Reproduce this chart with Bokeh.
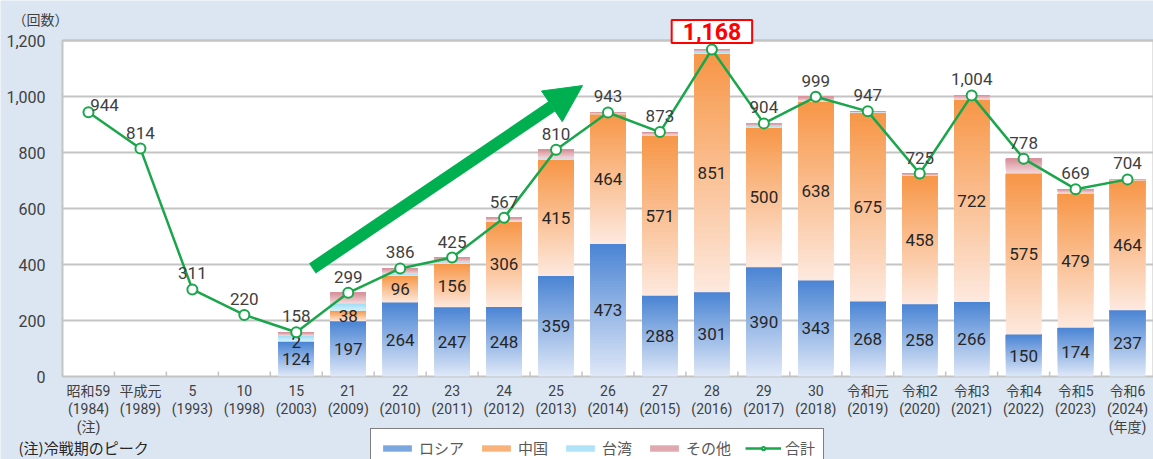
from bokeh.plotting import figure
from bokeh.models import (Range1d, ColumnDataSource, Label, Legend, LegendItem,
                          Arrow, NormalHead)
from bokeh.core.properties import value
from bokeh.embed import file_html
from bokeh.resources import INLINE

# ---------------- data ----------------
categories = ["昭和59\n(1984)\n(注)", "平成元\n(1989)", "5\n(1993)", "10\n(1998)",
              "15\n(2003)", "21\n(2009)", "22\n(2010)", "23\n(2011)", "24\n(2012)",
              "25\n(2013)", "26\n(2014)", "27\n(2015)", "28\n(2016)", "29\n(2017)",
              "30\n(2018)", "令和元\n(2019)", "令和2\n(2020)", "令和3\n(2021)",
              "令和4\n(2022)", "令和5\n(2023)", "令和6\n(2024)\n(年度)"]
russia = [None, None, None, None, 124, 197, 264, 247, 248, 359, 473, 288, 301, 390, 343, 268, 258, 266, 150, 174, 237]
china = [None, None, None, None, 2, 38, 96, 156, 306, 415, 464, 571, 851, 500, 638, 675, 458, 722, 575, 479, 464]
taiwan = [None, None, None, None, 20, 26, 7, 5, 3, 5, 2, 4, 8, 4, 4, 1, 2, 4, 0, 3, 0]
other = [None, None, None, None, 12, 38, 19, 17, 10, 31, 4, 10, 8, 10, 14, 3, 7, 12, 53, 13, 3]
total = [944, 814, 311, 220, 158, 299, 386, 425, 567, 810, 943, 873, 1168, 904, 999, 947, 725, 1004, 778, 669, 704]
y_ticks = [0, 200, 400, 600, 800, 1000, 1200]
series_names = ["ロシア", "中国", "台湾", "その他", "合計"]
y_unit = "（回数）"
note_text = "(注)冷戦期のピーク"
peak_index = 12

# ---------------- styles ----------------
BG = "#dce6f2"
GRID = "#c4c4c4"
GREEN = "#1aa64a"
ARROW_GREEN = "#00b050"
NUM_FONT = "Roboto, Noto Sans CJK JP"
JP_FONT = "Noto Sans CJK JP"
GRADS = {
    "russia": ("#dfe8f7", "#4a84d4"),
    "china": ("#fde9df", "#f79646"),
    "taiwan": ("#d4f2fc", "#9edcf4"),
    "other": ("#f4d9dc", "#d68f98"),
}
BAR_W = 0.68
N_SLICES = 40
LEGEND_SLICE = 26


def hex2rgb(h):
    h = h.lstrip("#")
    return tuple(int(h[i:i + 2], 16) for i in (0, 2, 4))


def lerp(c0, c1, t):
    a, b = hex2rgb(c0), hex2rgb(c1)
    return "#%02x%02x%02x" % tuple(round(a[k] + (b[k] - a[k]) * t) for k in range(3))


xs = list(range(len(categories)))

bottoms = {"russia": [], "china": [], "taiwan": [], "other": []}
for i in xs:
    if russia[i] is None:
        for k in bottoms:
            bottoms[k].append(None)
        continue
    b = 0
    for k, arr in (("russia", russia), ("china", china), ("taiwan", taiwan), ("other", other)):
        bottoms[k].append(b)
        b += arr[i]


def grad_source(key, arr):
    c_bot, c_top = GRADS[key]
    d = dict(x=[], bottom=[], top=[], color=[])
    for i in xs:
        h = arr[i]
        if h is None or h <= 0:
            continue
        b = bottoms[key][i]
        for s in range(N_SLICES):
            d["x"].append(i)
            d["bottom"].append(b + h * s / N_SLICES)
            d["top"].append(b + h)
            d["color"].append(lerp(c_bot, c_top, (s + 0.5) / N_SLICES))
    return ColumnDataSource(d)


# ---------------- geometry of the page ----------------
W, H = 1153, 459
LEFT_PX = 62          # room for the value labels left of the plot area
ZERO_PX = 376         # pixel row of the zero line
PX_PER_UNIT = 336 / 1200
TICK_PX = 5
cat_px = (W - LEFT_PX) / len(categories)
x_start = -0.5 - LEFT_PX / cat_px
x_end = len(categories) - 0.5
y_top = ZERO_PX / PX_PER_UNIT
y_bot = -(H - ZERO_PX) / PX_PER_UNIT

p = figure(width=W, height=H, output_backend="svg", toolbar_location=None,
           x_range=Range1d(x_start, x_end), y_range=Range1d(y_bot, y_top),
           min_border=0)
p.background_fill_color = BG
p.border_fill_color = BG
p.outline_line_color = None
p.axis.visible = False
p.grid.visible = False

# white plot area with its frame
p.quad(left=[-0.5], right=[x_end], bottom=[0], top=[y_ticks[-1]],
       fill_color="white", line_color=GRID, line_width=2)
# horizontal grid
p.segment(x0=[-0.5] * (len(y_ticks) - 1), x1=[x_end] * (len(y_ticks) - 1),
          y0=y_ticks[1:], y1=y_ticks[1:], line_color=GRID, line_width=2)
# small category separators on the base line
seps = [i + 0.5 for i in xs[:-1]]
p.segment(x0=seps, x1=seps, y0=[0] * len(seps), y1=[TICK_PX / PX_PER_UNIT] * len(seps),
          line_color=GRID, line_width=1.5)

# y value labels
p.text(x=[-0.5] * len(y_ticks), y=y_ticks, text=[f"{v:,}" for v in y_ticks],
       x_offset=-17, text_align="right", text_baseline="middle",
       text_font=value(NUM_FONT), text_font_size="16px", text_color="#404040")
p.add_layout(Label(x=x_start, y=y_top, x_offset=12, y_offset=-18, text=y_unit,
                   text_align="left", text_baseline="middle", text_font=JP_FONT,
                   text_font_size="14px", text_color="#404040"))

# category labels
p.text(x=xs, y=[0] * len(xs), text=categories, y_offset=6, text_align="center",
       text_baseline="top", text_font=value(NUM_FONT), text_font_size="14px",
       text_color="#404040", text_line_height=1.15)

# stacked gradient bars
bar_r = {}
for key, arr in (("russia", russia), ("china", china), ("taiwan", taiwan), ("other", other)):
    bar_r[key] = p.vbar(x="x", bottom="bottom", top="top", width=BAR_W, fill_color="color",
                        line_color=None, source=grad_source(key, arr))

# bar value labels
lab = dict(x=[], y=[], text=[])
for i in xs:
    if russia[i] is None:
        continue
    lab["x"] += [i, i]
    lab["y"] += [russia[i] / 2, russia[i] + china[i] / 2]
    lab["text"] += [str(russia[i]), str(china[i])]
p.text(x="x", y="y", text="text", source=ColumnDataSource(lab), text_align="center",
       text_baseline="middle", text_font=value(NUM_FONT), text_font_size="17px",
       text_color="#262626")

# total line
line_r = p.line(xs, total, line_color=GREEN, line_width=2.5)
pts_r = p.scatter(xs, total, size=10, fill_color="white", line_color=GREEN, line_width=2)

# total labels
tot_txt = ["" if i == peak_index else f"{v:,}" for i, v in enumerate(total)]
tot_dx = [16 if i == 0 else 0 for i in xs]
tot_dy = [-7 if i == 0 else -16 for i in xs]
p.text(x="x", y="y", text="text", x_offset="dx", y_offset="dy",
       source=ColumnDataSource(dict(x=xs, y=total, text=tot_txt, dx=tot_dx, dy=tot_dy)),
       text_align="center", text_baseline="alphabetic", text_font=value(NUM_FONT),
       text_font_size="17px", text_color="#404040")

# peak label in red box
p.add_layout(Label(x=peak_index, y=total[peak_index], text=f"{total[peak_index]:,}",
                   text_align="center", text_baseline="middle", y_offset=18,
                   text_font=NUM_FONT, text_font_size="23px", text_font_style="bold",
                   text_color="#ff0000", border_line_color="#ff0000", border_line_width=2,
                   background_fill_color="white",
                   padding=dict(left=11, right=11, top=3, bottom=3)))

# trend arrow
p.add_layout(Arrow(x_start=4.31, y_start=386, x_end=9.51, y_end=1039,
                   line_color=ARROW_GREEN, line_width=12,
                   end=NormalHead(size=37, fill_color=ARROW_GREEN, line_color=ARROW_GREEN)))

# note
p.add_layout(Label(x=x_start, y=y_bot, x_offset=18, y_offset=12, text=note_text,
                   text_align="left", text_baseline="middle", text_font=JP_FONT,
                   text_font_size="15px", text_color="#262626"))

# legend
items = [LegendItem(label=name, renderers=[bar_r[k]], index=LEGEND_SLICE)
         for k, name in zip(["russia", "china", "taiwan", "other"], series_names[:4])]
items.append(LegendItem(label=series_names[4], renderers=[line_r, pts_r]))
legend = Legend(items=items, orientation="horizontal", location=(370, -8),
                border_line_color="#000000", border_line_width=1,
                background_fill_color="white", background_fill_alpha=1,
                label_text_font=JP_FONT, label_text_font_size="15px",
                label_text_color="#595959", glyph_width=36, glyph_height=8,
                label_standoff=4, spacing=14, padding=8, margin=0, label_height=16)
p.add_layout(legend)

open("out.html", "w").write(file_html(p, INLINE))
